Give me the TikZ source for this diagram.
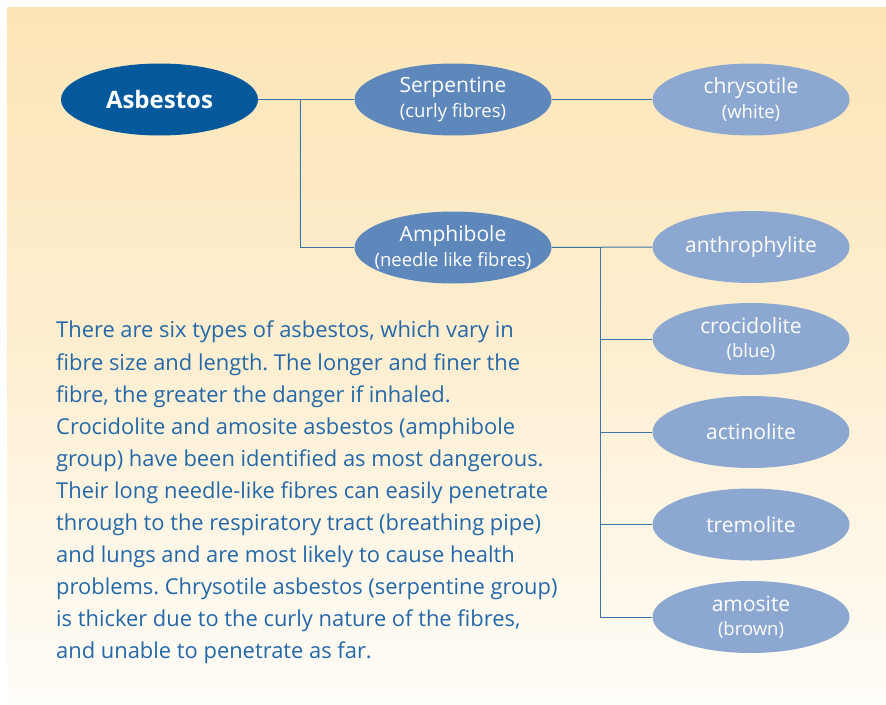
\documentclass[tikz,border=0pt]{standalone}
\usepackage{fontspec}
\setmainfont{Open Sans}
\usetikzlibrary{shapes.geometric}
\definecolor{bgtop}{HTML}{FDE5B7}
\definecolor{bgbot}{HTML}{FFFDF9}
\definecolor{dark}{HTML}{03599C}
\definecolor{midb}{HTML}{5E88BC}
\definecolor{light}{HTML}{8DA8D0}
\definecolor{txt}{HTML}{2468A8}
\definecolor{line}{HTML}{3A74A8}
\tikzset{
  oval/.style={ellipse, minimum width=197pt, minimum height=72pt, inner xsep=-15pt, inner ysep=-6pt, text=white, align=center, font=\fontsize{21}{24.5}\selectfont},
  root/.style={oval, fill=dark, font=\fontsize{24}{27}\selectfont\bfseries},
  midnode/.style={oval, fill=midb},
  leaf/.style={oval, fill=light},
  conn/.style={draw=line, line width=1pt}
}
\newcommand{\subl}[1]{{\fontsize{18.5}{24.5}\selectfont #1}}
\frenchspacing
\begin{document}
\begin{tikzpicture}[x=1pt,y=-1pt]
\useasboundingbox (0,0) rectangle (886,704);
\shade[top color=bgtop, bottom color=bgbot, middle color=bgtop!60!bgbot] (7,7) rectangle (886,704);
\node[root] (asb) at (159.5,99.5) {Asbestos};
\node[midnode] (ser) at (453,99.5) {Serpentine\\\subl{(curly fibres)}};
\node[midnode] (amp) at (453,247.5) {Amphibole\\\subl{(needle like fibres)}};
\node[leaf] (chr) at (751,99.5) {chrysotile\\\subl{(white)}};
\node[leaf] (ant) at (751,247) {anthrophylite};
\node[leaf] (cro) at (751,339) {crocidolite\\\subl{(blue)}};
\node[leaf] (act) at (751,432) {actinolite};
\node[leaf] (tre) at (751,524.5) {tremolite};
\node[leaf] (amo) at (751,617) {amosite\\\subl{(brown)}};
\coordinate (j1) at (300,99.5);
\coordinate (j2) at (600,247.5);
\draw[conn] (asb.east) -- (ser.west);
\draw[conn] (j1) |- (amp.west);
\draw[conn] (ser.east) -- (chr.west);
\draw[conn] (amp.east) -- (ant.west);
\draw[conn] (j2) |- (amo.west);
\draw[conn] (j2 |- cro.west) -- (cro.west);
\draw[conn] (j2 |- act.west) -- (act.west);
\draw[conn] (j2 |- tre.west) -- (tre.west);
\node[anchor=north west, align=left, text=txt, inner sep=0pt, font=\fontsize{21.9}{32.1}\selectfont] (para) at (56,321) {There are six types of asbestos, which vary in\\
fibre size and length. The longer and finer the\\
fibre, the greater the danger if inhaled.\\
Crocidolite and amosite asbestos (amphibole\\
group) have been identified as most dangerous.\\
Their long needle-like fibres can easily penetrate\\
through to the respiratory tract (breathing pipe)\\
and lungs and are most likely to cause health\\
problems. Chrysotile asbestos (serpentine group)\\
is thicker due to the curly nature of the fibres,\\
and unable to penetrate as far.};
\end{tikzpicture}
\end{document}
